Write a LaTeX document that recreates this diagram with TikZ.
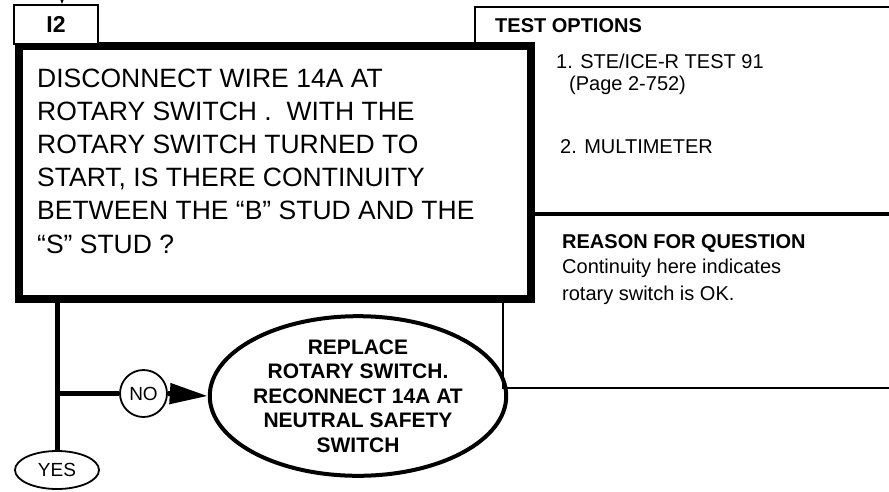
\documentclass[tikz,border=0pt]{standalone}
\usepackage{fontspec}
\setmainfont{Liberation Sans}
\usetikzlibrary{arrows.meta,positioning,shapes.geometric}

\begin{document}
\begin{tikzpicture}[x=1pt,y=-1pt,
  txt/.style={anchor=base west,inner sep=0pt,align=left},
  bigtxt/.style={txt,font=\fontsize{26.5}{33.2}\selectfont},
  sidetxt/.style={txt,font=\fontsize{20}{22}\selectfont},
  sidehead/.style={txt,font=\bfseries\fontsize{20}{22}\selectfont},
  answer/.style={draw,line width=1.8pt,inner sep=0pt,font=\fontsize{19}{21}\selectfont}]
\useasboundingbox (0,0) rectangle (889,491);
% question block (multi-line texts sit on their last baseline)
\node[draw,line width=8pt,minimum width=512pt,minimum height=253pt,inner sep=0pt] (q) at (275,172.5) {};
\node[draw,fill=white,line width=2pt,minimum width=84pt,minimum height=39pt,inner sep=0pt,
  font=\bfseries\fontsize{23}{25}\selectfont] (i2) at (56,24.5) {I2};
\coordinate (in) at (62,0);
\draw[line width=1.5pt,-{Stealth[length=9pt,width=7pt]}] (in) -- (in |- i2.north);
\node[bigtxt] (qtxt) at (37,253) {DISCONNECT WIRE 14A AT\\ROTARY SWITCH .~ WITH THE\\ROTARY SWITCH TURNED TO\\START, IS THERE CONTINUITY\\BETWEEN THE “B” STUD AND THE\\“S” STUD ?};
% side panels
\coordinate (topcorner) at (475,7);
\coordinate (midline) at (889,214);
\coordinate (lowcorner) at (503,388);
\draw[line width=2.5pt] (topcorner |- q.north) -- (topcorner) -- (889,7);
\draw[line width=3.5pt] (q.east |- midline) -- (midline);
\draw[line width=2.5pt] (lowcorner |- q.south) -- (lowcorner) -- (889,388);
\node[sidehead] (topt) at (495,32) {TEST OPTIONS};
\node[sidetxt] (opt1) at (556,90) {1. STE/ICE-R TEST 91\\\hspace*{13pt}(Page 2-752)};
\node[sidetxt] (opt2) at (560,153) {2. MULTIMETER};
\node[sidehead] (rq) at (562,248) {REASON FOR QUESTION};
\node[sidetxt,font=\fontsize{20}{27}\selectfont] (rtxt) at (562,300) {Continuity here indicates\\rotary switch is OK.};
% answers
\node[ellipse,draw,line width=4pt,minimum width=266pt,minimum height=148pt,inner sep=0pt,align=center,
  font=\bfseries\fontsize{21}{24.5}\selectfont] (rep) at (358,396)
  {REPLACE\\ROTARY SWITCH.\\RECONNECT 14A AT\\NEUTRAL SAFETY\\SWITCH};
\node[answer,circle,minimum size=47pt] (no) at (143.5,393.5) {NO};
\node[answer,ellipse,minimum width=84pt,minimum height=38pt] (yes) at (57,470) {YES};
\draw[line width=5pt] (yes.north |- q.south) -- (yes.north);
\coordinate (br) at (yes.north |- no);
\draw[line width=4.5pt] (br) -- (no.west);
\draw[line width=5pt,-{Triangle[length=38pt,width=20pt]}] (no.east) -- (rep.west);
\end{tikzpicture}
\end{document}
